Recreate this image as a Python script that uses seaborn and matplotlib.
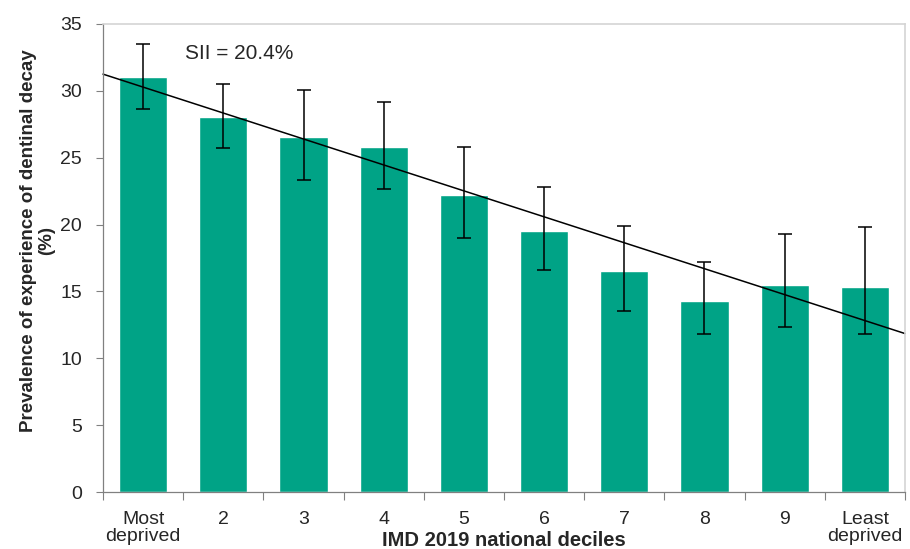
import matplotlib
matplotlib.use("Agg")
import matplotlib.pyplot as plt
import numpy as np
import pandas as pd
import seaborn as sns

# ---- data ----
deciles = ["Most\ndeprived", "2", "3", "4", "5", "6", "7", "8", "9", "Least\ndeprived"]
prevalence = [31.0, 28.05, 26.55, 25.8, 22.2, 19.5, 16.5, 14.3, 15.5, 15.3]
ci_lower = [28.65, 25.7, 23.3, 22.65, 19.0, 16.6, 13.55, 11.85, 12.35, 11.8]
ci_upper = [33.5, 30.5, 30.1, 29.2, 25.8, 22.8, 19.9, 17.2, 19.3, 19.8]
sii_line = [31.25, 11.85]   # slope index line at the left and right edge of the plot
sii_label = "SII = 20.4%"

df = pd.DataFrame({"decile": deciles, "prevalence": prevalence,
                   "lo": ci_lower, "hi": ci_upper})

sns.set_theme(style="white")
plt.rcParams["font.family"] = ["Liberation Sans", "DejaVu Sans"]

fig = plt.figure(figsize=(9.1, 5.49), dpi=100)
ax = fig.add_axes([0.1132, 0.1038, 0.8813, 0.8525])

sns.barplot(data=df, x="decile", y="prevalence", color="#00A386",
            saturation=1, width=0.6, ax=ax)

xpos = np.arange(len(df))
ax.errorbar(xpos, df["prevalence"],
            yerr=[df["prevalence"] - df["lo"], df["hi"] - df["prevalence"]],
            fmt="none", ecolor="black", elinewidth=1.1, capsize=5, capthick=1.1)

# trend line for the SII
ax.plot([-0.5, len(df) - 0.5], sii_line, color="black", lw=1.1, clip_on=False)
ax.text(0.52, 32.8, sii_label, fontsize=15, va="center", ha="left")

ax.set_xlim(-0.5, len(df) - 0.5)
ax.set_ylim(0, 35)
ax.set_yticks(range(0, 36, 5))
ax.tick_params(axis="y", labelsize=14, length=5, width=0.8, color="#808080",
               left=True, pad=10)
ax.tick_params(axis="x", which="major", labelsize=14, length=0, pad=14)
ax.set_xticks(np.arange(-0.5, len(df), 1), minor=True)
ax.tick_params(axis="x", which="minor", length=6, width=0.8, color="#808080",
               bottom=True)
for lbl in ax.get_xticklabels():
    lbl.set_linespacing(0.95)

ax.set_xlabel("IMD 2019 national deciles", fontsize=14.5, fontweight="bold")
ax.xaxis.set_label_coords(0.5, -0.083)
ax.set_ylabel("Prevalence of experience of dentinal decay\n(%)", fontsize=13.5,
              fontweight="bold", linespacing=1.05)
ax.yaxis.set_label_coords(-0.06, 0.538)

for side in ["left", "bottom"]:
    ax.spines[side].set_color("#808080")
    ax.spines[side].set_linewidth(0.9)
for side in ["top", "right"]:
    ax.spines[side].set_color("#d4d4d4")
    ax.spines[side].set_linewidth(1.2)

fig.savefig("out.png", dpi=100)
